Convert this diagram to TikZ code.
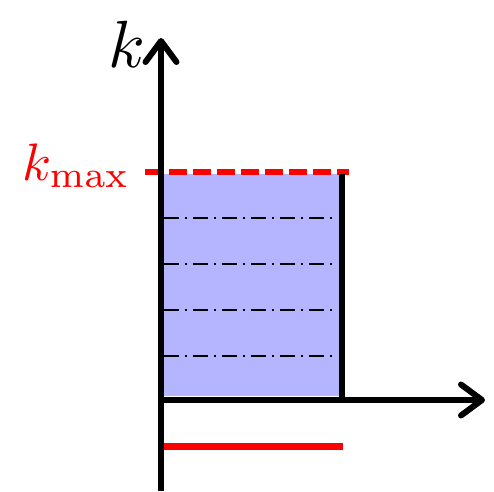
\documentclass[tikz,border=0pt]{standalone}
\usepackage{amsmath,amssymb}
\usepackage{xcolor}
\usepackage{tikz}
\usetikzlibrary{arrows.meta, positioning}
\usetikzlibrary{calc}

\colorlet{bandblue}{blue!29}

\begin{document}
\begin{tikzpicture}[x=0.02cm,y=-0.02cm,
    axis/.style={line width=0.12cm,-{Straight Barb[round,length=0.42cm,width=0.62cm]}},
    bandline/.style={line width=0.04cm,dash pattern=on 0.3cm off 0.12cm on 0.04cm off 0.12cm},
    cutoff/.style={red,line width=0.12cm,dash pattern=on 0.36cm off 0.12cm}]
            \useasboundingbox (0,0) rectangle (494,491);
            \coordinate (o) at (161,400);
            \coordinate (ybot) at (161,491);
            \coordinate (ytop) at (161,38);
            \coordinate (xend) at (485,400);
            % filled band
            \fill[bandblue] (164,174) rectangle (339,396);
            \foreach \y in {218,264,310,356}
                \draw[bandline] (164,\y) -- (335,\y);
            \coordinate (kl) at (145,172);
            \coordinate (kr) at (349,172);
            \draw[cutoff] (kl) -- (kr);
            \coordinate (edgetop) at (342,174);
            \coordinate (edgebot) at (342,400);
            \draw[line width=0.12cm] (edgetop) -- (edgebot);
            % axes
            \draw[axis] (ybot) -- (ytop);
            \draw[axis] (o) -- (xend);
            % red segment
            \coordinate (sl) at (164,446);
            \coordinate (sr) at (343,446);
            \draw[red,line width=0.14cm] (sl) -- (sr);
            % labels
            \node[anchor=base east,inner sep=0pt,scale=3.8](klabel) at (147,67) {$k$};
            \node[anchor=base east,inner sep=0pt,red,scale=3](kmax) at (131,180) {$k_{\max}$};
        \end{tikzpicture}
\end{document}
